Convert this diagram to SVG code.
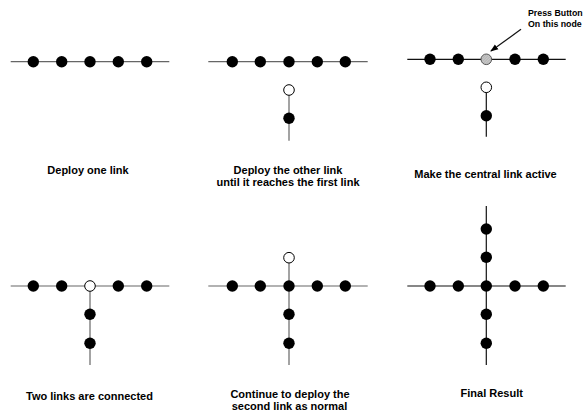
<svg xmlns="http://www.w3.org/2000/svg" width="587" height="414" viewBox="0 0 587 414">
<defs>
<pattern id="hatch" width="2" height="2" patternUnits="userSpaceOnUse" patternTransform="rotate(45)">
<rect width="2" height="2" fill="#c8c8c8"/>
<line x1="0" y1="0" x2="0" y2="2" stroke="#999" stroke-width="0.8"/>
</pattern>
<marker id="arr" markerWidth="8" markerHeight="8" refX="7" refY="4" orient="auto" markerUnits="userSpaceOnUse">
<path d="M0,1 L8,4 L0,7 Z" fill="#000"/>
</marker>
</defs>
<style>
.ln{stroke:#666;stroke-width:1.2;fill:none}
.lk{stroke:#111;stroke-width:1.2;fill:none}
.f{fill:#000}
.o{fill:#fff;stroke:#000;stroke-width:1}
.g{fill:url(#hatch);stroke:#555;stroke-width:1}
.t{font-family:"Liberation Sans",Arial,sans-serif;font-weight:bold;font-size:11px;fill:#000;text-anchor:middle}
.s{font-family:"Liberation Sans",Arial,sans-serif;font-weight:bold;font-size:8.8px;fill:#000}
</style>
<g id="connectors">
<line class="ln" x1="10.7" y1="61.7" x2="169.3" y2="61.7"/>
<line class="ln" x1="208.3" y1="61.7" x2="367.7" y2="61.7"/>
<line class="ln" x1="289" y1="90" x2="289" y2="140.7"/>
<line class="lk" x1="407.3" y1="59.3" x2="565.7" y2="59.3"/>
<line class="lk" x1="486.3" y1="87.3" x2="486.3" y2="136.7"/>
<line class="lk" x1="521" y1="29.3" x2="491" y2="51" marker-end="url(#arr)"/>
<line class="ln" x1="10.7" y1="286" x2="169.3" y2="286"/>
<line class="ln" x1="90" y1="286" x2="90" y2="365"/>
<line class="ln" x1="208.3" y1="286" x2="367.7" y2="286"/>
<line class="ln" x1="289" y1="257.7" x2="289" y2="365"/>
<line class="lk" x1="407.3" y1="286" x2="565.7" y2="286"/>
<line class="lk" x1="486.3" y1="206" x2="486.3" y2="365"/>
</g>
<g id="panel1">
<circle id="p1n1" class="f" cx="33.3" cy="61.7" r="5.7"/>
<circle id="p1n2" class="f" cx="61.7" cy="61.7" r="5.7"/>
<circle id="p1n3" class="f" cx="90" cy="61.7" r="5.7"/>
<circle id="p1n4" class="f" cx="118.3" cy="61.7" r="5.7"/>
<circle id="p1n5" class="f" cx="146.7" cy="61.7" r="5.7"/>
<text class="t" x="88" y="173.6">Deploy one link</text>
</g>
<g id="panel2">
<circle id="p2n1" class="f" cx="232.3" cy="61.7" r="5.7"/>
<circle id="p2n2" class="f" cx="260.3" cy="61.7" r="5.7"/>
<circle id="p2n3" class="f" cx="289" cy="61.7" r="5.7"/>
<circle id="p2n4" class="f" cx="317.3" cy="61.7" r="5.7"/>
<circle id="p2n5" class="f" cx="345.3" cy="61.7" r="5.7"/>
<circle id="p2n6" class="o" cx="289" cy="90" r="5.3"/>
<circle id="p2n7" class="f" cx="289" cy="118.3" r="5.7"/>
<text class="t" x="288" y="174">Deploy the other link</text>
<text class="t" x="288" y="186">until it reaches the first link</text>
</g>
<g id="panel3">
<circle id="p3n1" class="f" cx="430" cy="59.3" r="5.7"/>
<circle id="p3n2" class="f" cx="458.3" cy="59.3" r="5.7"/>
<circle id="p3n3" class="g" cx="486.3" cy="59.3" r="5.3"/>
<circle id="p3n4" class="f" cx="515" cy="59.3" r="5.7"/>
<circle id="p3n5" class="f" cx="543.3" cy="59.3" r="5.7"/>
<circle id="p3n6" class="o" cx="486.3" cy="87.3" r="5.3"/>
<circle id="p3n7" class="f" cx="486.3" cy="115.7" r="5.7"/>
<text class="s" x="528" y="16">Press Button</text>
<text class="s" x="528" y="27">On this node</text>
<text class="t" x="485.5" y="177.5">Make the central link active</text>
</g>
<g id="panel4">
<circle id="p4n1" class="f" cx="33.3" cy="286" r="5.7"/>
<circle id="p4n2" class="f" cx="61.7" cy="286" r="5.7"/>
<circle id="p4n3" class="o" cx="90" cy="286" r="5.3"/>
<circle id="p4n4" class="f" cx="118.3" cy="286" r="5.7"/>
<circle id="p4n5" class="f" cx="146.7" cy="286" r="5.7"/>
<circle id="p4n6" class="f" cx="90" cy="314.3" r="5.7"/>
<circle id="p4n7" class="f" cx="90" cy="343.3" r="5.7"/>
<text class="t" x="89.5" y="399.5">Two links are connected</text>
</g>
<g id="panel5">
<circle id="p5n1" class="f" cx="232.3" cy="286" r="5.7"/>
<circle id="p5n2" class="f" cx="260.3" cy="286" r="5.7"/>
<circle id="p5n3" class="f" cx="289" cy="286" r="5.7"/>
<circle id="p5n4" class="f" cx="317.3" cy="286" r="5.7"/>
<circle id="p5n5" class="f" cx="345.3" cy="286" r="5.7"/>
<circle id="p5n6" class="o" cx="289" cy="257.7" r="5.3"/>
<circle id="p5n7" class="f" cx="289" cy="314.3" r="5.7"/>
<circle id="p5n8" class="f" cx="289" cy="343.3" r="5.7"/>
<text class="t" x="290" y="397.5">Continue to deploy the</text>
<text class="t" x="289.5" y="410">second link as normal</text>
</g>
<g id="panel6">
<circle id="p6n1" class="f" cx="430" cy="286" r="5.7"/>
<circle id="p6n2" class="f" cx="458.3" cy="286" r="5.7"/>
<circle id="p6n3" class="f" cx="486.3" cy="286" r="5.7"/>
<circle id="p6n4" class="f" cx="515" cy="286" r="5.7"/>
<circle id="p6n5" class="f" cx="543.3" cy="286" r="5.7"/>
<circle id="p6n6" class="f" cx="486.3" cy="229" r="5.7"/>
<circle id="p6n7" class="f" cx="486.3" cy="257.3" r="5.7"/>
<circle id="p6n8" class="f" cx="486.3" cy="314.3" r="5.7"/>
<circle id="p6n9" class="f" cx="486.3" cy="343.3" r="5.7"/>
<text class="t" x="491.7" y="397.3">Final Result</text>
</g>
</svg>
